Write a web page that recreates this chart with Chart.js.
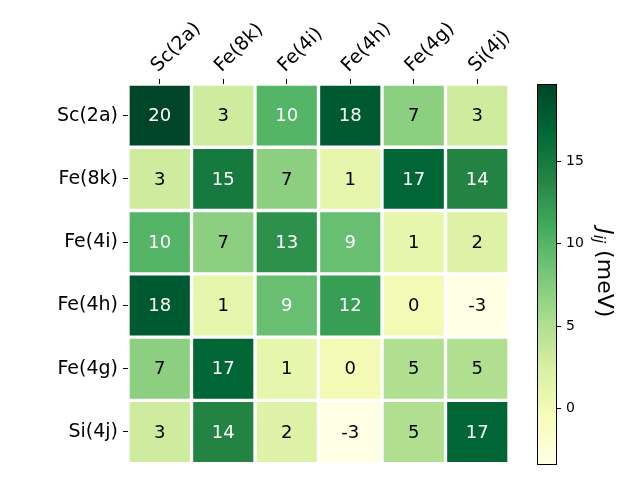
<!DOCTYPE html>
<html>
<head>
<meta charset="utf-8">
<script src="https://cdn.jsdelivr.net/npm/chart.js@4"></script>
<style>
  html, body { margin: 0; padding: 0; background: #fff; }
  #wrap { width: 640px; height: 480px; }
</style>
</head>
<body>
<div id="wrap"><canvas id="heat"></canvas></div>
<script>
const sites = ['Sc(2a)', 'Fe(8k)', 'Fe(4i)', 'Fe(4h)', 'Fe(4g)', 'Si(4j)'];

// J_ij in meV, one array per row
const rowSc2a = [19.7, 3, 10, 18, 7, 3];
const rowFe8k = [3, 15, 7, 1, 17, 14];
const rowFe4i = [10, 7, 13, 9, 1, 2];
const rowFe4h = [18, 1, 9, 12, 0, -3.4];
const rowFe4g = [7, 17, 1, 0, 5, 5];
const rowSi4j = [3, 14, 2, -3.4, 5, 17];
const rows = [rowSc2a, rowFe8k, rowFe4i, rowFe4h, rowFe4g, rowSi4j];

const cbTicks = [0, 5, 10, 15];
const VMIN = -3.4;
const VMAX = 19.7;

const FONT = '"DejaVu Sans", sans-serif';

// matplotlib YlGn
const YLGN = ['#ffffe5', '#f7fcb9', '#d9f0a3', '#addd8e', '#78c679', '#41ab5d', '#238443', '#006837', '#004529'];

function hexToRgb(h) {
  return [parseInt(h.slice(1, 3), 16), parseInt(h.slice(3, 5), 16), parseInt(h.slice(5, 7), 16)];
}

function cmap(v) {
  let t = (v - VMIN) / (VMAX - VMIN);
  t = Math.max(0, Math.min(1, t));
  const pos = t * (YLGN.length - 1);
  const i = Math.min(Math.floor(pos), YLGN.length - 2);
  const f = pos - i;
  const a = hexToRgb(YLGN[i]), b = hexToRgb(YLGN[i + 1]);
  const c = a.map((x, k) => Math.round(x + (b[k] - x) * f));
  return 'rgb(' + c.join(',') + ')';
}

let datasets = [];
rows.forEach((vals, r) => {
  datasets.push({
    label: sites[r],
    data: vals.map(() => [r - 0.5, r + 0.5]),
    backgroundColor: vals.map(cmap),
    borderColor: '#ffffff',
    borderWidth: 2,
    borderSkipped: false,
    grouped: false,
    categoryPercentage: 1.0,
    barPercentage: 1.0
  });
});

// numbers inside cells
const cellText = {
  id: 'cellText',
  afterDatasetsDraw(chart) {
    const c = chart.ctx;
    const xs = chart.scales.x, ys = chart.scales.y;
    const mid = (VMIN + VMAX) / 2;
    c.save();
    c.font = '18px ' + FONT;
    c.textAlign = 'center';
    c.textBaseline = 'middle';
    rows.forEach((vals, r) => {
      vals.forEach((v, col) => {
        c.fillStyle = v > mid ? '#ffffff' : '#000000';
        c.fillText(String(Math.round(v)), xs.getPixelForValue(col), ys.getPixelForValue(r) + 1);
      });
    });
    c.restore();
  }
};

// colour bar on the right
const colorBar = {
  id: 'colorBar',
  afterDraw(chart) {
    const c = chart.ctx;
    const cb = chart.scales.cb;
    const x0 = 537.5, x1 = 556.5;
    const yTop = cb.getPixelForValue(VMAX), yBot = cb.getPixelForValue(VMIN);
    c.save();
    const g = c.createLinearGradient(0, yBot, 0, yTop);
    YLGN.forEach((col, i) => g.addColorStop(i / (YLGN.length - 1), col));
    c.fillStyle = g;
    c.fillRect(x0, yTop, x1 - x0, yBot - yTop);
    c.strokeStyle = '#000';
    c.lineWidth = 1;
    c.strokeRect(x0, Math.round(yTop) + 0.5, x1 - x0, Math.round(yBot) - Math.round(yTop));

    c.font = '14px ' + FONT;
    c.fillStyle = '#000';
    c.textAlign = 'left';
    c.textBaseline = 'middle';
    cbTicks.forEach((t) => {
      const y = Math.round(cb.getPixelForValue(t)) + 0.5;
      c.beginPath();
      c.moveTo(x1, y);
      c.lineTo(x1 + 4.5, y);
      c.stroke();
      c.fillText(String(t), x1 + 9.5, y);
    });

    // label J_ij (meV), rotated to read downward
    const big = '22px ' + FONT, bigIt = 'italic 22px ' + FONT, sub = 'italic 15px ' + FONT;
    c.font = bigIt; const wJ = c.measureText('J').width;
    c.font = sub; const wS = c.measureText('ij').width;
    c.font = big; const wR = c.measureText(' (meV)').width;
    const total = wJ + wS + wR;
    c.translate(598, (yTop + yBot) / 2 - 1);
    c.rotate(Math.PI / 2);
    c.textBaseline = 'alphabetic';
    let px = -total / 2;
    c.font = bigIt; c.fillText('J', px, 0); px += wJ;
    c.font = sub; c.fillText('ij', px, 4); px += wS;
    c.font = big; c.fillText(' (meV)', px, 0);
    c.restore();
  }
};

const config = {
  type: 'bar',
  data: {
    labels: sites,
    datasets: datasets
  },
  plugins: [cellText, colorBar],
  options: {
    responsive: true,
    maintainAspectRatio: false,
    animation: false,
    layout: {
      padding: { left: 0, right: 131, top: 0, bottom: 15 }
    },
    plugins: {
      legend: { display: false },
      tooltip: { enabled: false }
    },
    scales: {
      x: {
        type: 'category',
        position: 'top',
        offset: true,
        grid: {
          display: true,
          drawOnChartArea: false,
          offset: false,
          tickLength: 5,
          color: '#000'
        },
        border: { display: false },
        ticks: {
          color: '#000',
          font: { family: FONT, size: 19 },
          maxRotation: 45,
          minRotation: 45,
          padding: 2,
          labelOffset: 11
        },
        afterFit(scale) { scale.height = 84; }
      },
      y: {
        type: 'linear',
        reverse: true,
        min: -0.5,
        max: 5.5,
        grid: {
          display: true,
          drawOnChartArea: false,
          tickLength: 5,
          color: '#000'
        },
        border: { display: false },
        afterBuildTicks(scale) {
          scale.ticks = sites.map((_, i) => ({ value: i }));
        },
        ticks: {
          color: '#000',
          font: { family: FONT, size: 19 },
          padding: 5,
          callback: (v) => sites[v]
        },
        afterFit(scale) { scale.width = 128; }
      },
      cb: {
        type: 'linear',
        position: 'right',
        display: false,
        min: VMIN,
        max: VMAX
      }
    }
  }
};

new Chart(document.getElementById('heat'), config);
</script>
</body>
</html>
